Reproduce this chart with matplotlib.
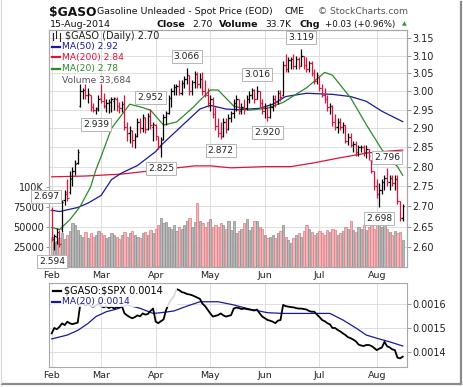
import numpy as np
import pandas as pd
import matplotlib
matplotlib.use('Agg')
import matplotlib.pyplot as plt
from matplotlib.lines import Line2D
from matplotlib.patches import Rectangle
from matplotlib.ticker import FixedLocator, NullLocator, FixedFormatter
import matplotlib.transforms as mtrans

plt.rcParams['font.family'] = ['DejaVu Sans']
plt.rcParams['text.parse_math'] = False

# ---------------- data ----------------
opens = [
    2.690, 2.620, 2.625, 2.636, 2.645, 2.715, 2.735, 2.735, 2.770, 2.790,
    2.810, 2.960, 3.000, 3.005, 2.990, 2.990, 2.958, 2.950, 2.955, 2.982,
    2.975, 2.960, 2.968, 2.970, 2.975, 2.980, 2.960, 2.955, 2.965, 2.905,
    2.887, 2.893, 2.870, 2.880, 2.918, 2.900, 2.928, 2.898, 2.932, 2.905,
    2.910, 2.880, 2.852, 2.872, 2.930, 2.942, 2.982, 3.000, 3.012, 3.015,
    2.995, 3.022, 3.035, 3.045, 3.000, 3.025, 3.048, 3.020, 3.035, 3.000,
    2.990, 2.968, 2.980, 2.938, 2.907, 2.888, 2.880, 2.918, 2.898, 2.928,
    2.940, 2.969, 2.979, 2.948, 2.958, 2.955, 2.979, 2.990, 3.005, 2.980,
    3.000, 2.968, 2.948, 2.955, 2.930, 2.958, 2.979, 2.970, 2.995, 2.990,
    3.074, 3.063, 3.088, 3.090, 3.070, 3.092, 3.072, 3.098, 3.074, 3.063,
    3.078, 3.050, 3.030, 3.040, 3.010, 2.990, 2.979, 2.958, 2.960, 2.918,
    2.905, 2.918, 2.905, 2.910, 2.867, 2.877, 2.857, 2.860, 2.837, 2.850,
    2.852, 2.837, 2.845, 2.818, 2.788, 2.750, 2.730, 2.740, 2.760, 2.770,
    2.760, 2.770, 2.758, 2.768, 2.712, 2.670]
highs = [
    2.697, 2.632, 2.646, 2.641, 2.716, 2.740, 2.768, 2.788, 2.798, 2.818,
    2.847, 3.021, 3.010, 3.021, 3.010, 2.990, 2.969, 2.958, 2.990, 3.021,
    2.995, 2.979, 2.979, 2.985, 2.985, 2.984, 2.972, 2.975, 2.989, 2.918,
    2.907, 2.897, 2.887, 2.928, 2.928, 2.938, 2.930, 2.940, 2.952, 2.918,
    2.912, 2.880, 2.877, 2.938, 2.948, 2.990, 3.010, 3.021, 3.021, 3.031,
    3.031, 3.042, 3.066, 3.045, 3.031, 3.058, 3.053, 3.050, 3.053, 3.031,
    3.010, 2.990, 2.985, 2.958, 2.928, 2.918, 2.928, 2.928, 2.938, 2.948,
    2.979, 2.990, 2.980, 2.969, 2.979, 2.990, 3.000, 3.010, 3.008, 3.016,
    3.000, 2.979, 2.969, 2.960, 2.969, 2.990, 2.990, 3.005, 3.005, 3.085,
    3.106, 3.096, 3.096, 3.106, 3.100, 3.096, 3.119, 3.100, 3.096, 3.085,
    3.085, 3.063, 3.053, 3.042, 3.021, 3.010, 2.990, 2.969, 2.963, 2.938,
    2.928, 2.928, 2.918, 2.910, 2.887, 2.887, 2.867, 2.867, 2.857, 2.857,
    2.857, 2.857, 2.847, 2.818, 2.788, 2.769, 2.759, 2.769, 2.778, 2.796,
    2.778, 2.778, 2.778, 2.778, 2.712, 2.705]
lows = [
    2.615, 2.594, 2.608, 2.600, 2.637, 2.702, 2.712, 2.730, 2.750, 2.778,
    2.808, 2.958, 2.979, 2.979, 2.969, 2.948, 2.945, 2.939, 2.948, 2.969,
    2.955, 2.945, 2.942, 2.945, 2.950, 2.948, 2.940, 2.945, 2.897, 2.867,
    2.862, 2.852, 2.848, 2.877, 2.887, 2.890, 2.888, 2.895, 2.898, 2.867,
    2.870, 2.847, 2.825, 2.870, 2.908, 2.938, 2.958, 2.990, 2.990, 2.990,
    2.990, 3.010, 3.020, 2.990, 2.990, 3.010, 3.010, 3.010, 2.990, 2.985,
    2.958, 2.948, 2.928, 2.897, 2.877, 2.872, 2.877, 2.887, 2.897, 2.918,
    2.928, 2.948, 2.938, 2.938, 2.938, 2.950, 2.969, 2.979, 2.969, 2.979,
    2.958, 2.938, 2.928, 2.920, 2.928, 2.948, 2.958, 2.965, 2.975, 2.988,
    3.053, 3.053, 3.063, 3.063, 3.063, 3.063, 3.070, 3.063, 3.053, 3.053,
    3.042, 3.021, 3.021, 3.000, 2.985, 2.969, 2.948, 2.938, 2.907, 2.897,
    2.887, 2.897, 2.887, 2.862, 2.857, 2.852, 2.837, 2.827, 2.827, 2.837,
    2.827, 2.822, 2.817, 2.783, 2.740, 2.720, 2.698, 2.730, 2.740, 2.750,
    2.740, 2.750, 2.740, 2.706, 2.665, 2.665]
closes = [
    2.625, 2.627, 2.638, 2.609, 2.710, 2.731, 2.720, 2.768, 2.788, 2.808,
    2.838, 3.000, 3.004, 2.989, 2.992, 2.958, 2.950, 2.953, 2.979, 2.975,
    2.960, 2.969, 2.972, 2.978, 2.982, 2.960, 2.955, 2.965, 2.905, 2.887,
    2.895, 2.870, 2.880, 2.918, 2.900, 2.930, 2.898, 2.932, 2.908, 2.912,
    2.880, 2.852, 2.870, 2.930, 2.942, 2.982, 3.000, 3.012, 3.015, 2.995,
    3.022, 3.035, 3.045, 3.000, 3.025, 3.048, 3.020, 3.035, 3.000, 2.990,
    2.968, 2.980, 2.938, 2.907, 2.888, 2.880, 2.918, 2.898, 2.928, 2.940,
    2.969, 2.979, 2.948, 2.958, 2.950, 2.979, 2.990, 3.005, 2.980, 3.000,
    2.968, 2.948, 2.955, 2.930, 2.958, 2.979, 2.970, 2.995, 2.985, 3.074,
    3.063, 3.088, 3.090, 3.070, 3.092, 3.072, 3.098, 3.074, 3.063, 3.078,
    3.050, 3.030, 3.045, 3.010, 2.990, 2.979, 2.958, 2.960, 2.918, 2.905,
    2.918, 2.905, 2.910, 2.867, 2.877, 2.857, 2.860, 2.837, 2.850, 2.852,
    2.837, 2.845, 2.827, 2.788, 2.750, 2.730, 2.740, 2.760, 2.770, 2.760,
    2.770, 2.758, 2.768, 2.712, 2.670, 2.700]
volume_k = [
    38, 31, 33, 36, 42, 35, 40, 45, 55, 52,
    46, 40, 38, 44, 36, 42, 38, 40, 45, 42,
    40, 36, 38, 42, 40, 38, 35, 40, 44, 38,
    42, 45, 40, 38, 36, 42, 44, 40, 46, 42,
    48, 52, 61, 55, 56, 50, 48, 52, 45, 50,
    48, 52, 58, 61, 50, 56, 80, 58, 55, 50,
    56, 60, 50, 52, 50, 55, 52, 48, 58, 46,
    58, 42, 45, 48, 55, 60, 46, 50, 58, 58,
    50, 48, 40, 36, 38, 40, 36, 42, 45, 52,
    38, 34, 30, 36, 40, 42, 38, 45, 52, 48,
    44, 40, 42, 45, 42, 40, 46, 44, 48, 46,
    40, 42, 45, 50, 48, 58, 46, 44, 50, 48,
    52, 46, 50, 54, 48, 52, 56, 50, 54, 48,
    44, 40, 45, 42, 44, 33.684]
ratio = [
    0.001478, 0.001500, 0.001495, 0.001505, 0.001519, 0.001512, 0.001526, 0.001519, 0.001516, 0.001519,
    0.001522, 0.001598, 0.001600, 0.001592, 0.001598, 0.001590, 0.001588, 0.001592, 0.001600, 0.001590,
    0.001585, 0.001590, 0.001582, 0.001588, 0.001580, 0.001586, 0.001584, 0.001590, 0.001560, 0.001552,
    0.001545, 0.001540, 0.001545, 0.001552, 0.001548, 0.001560, 0.001555, 0.001558, 0.001570, 0.001580,
    0.001526, 0.001520, 0.001528, 0.001535, 0.001574, 0.001600, 0.001618, 0.001630, 0.001660, 0.001656,
    0.001648, 0.001645, 0.001640, 0.001638, 0.001635, 0.001630, 0.001625, 0.001620, 0.001600, 0.001590,
    0.001575, 0.001560, 0.001547, 0.001550, 0.001553, 0.001560, 0.001552, 0.001547, 0.001550, 0.001553,
    0.001580, 0.001584, 0.001582, 0.001578, 0.001580, 0.001578, 0.001576, 0.001574, 0.001572, 0.001576,
    0.001560, 0.001547, 0.001540, 0.001533, 0.001530, 0.001526, 0.001520, 0.001530, 0.001533, 0.001595,
    0.001590, 0.001588, 0.001586, 0.001585, 0.001582, 0.001580, 0.001580, 0.001578, 0.001576, 0.001570,
    0.001567, 0.001567, 0.001555, 0.001545, 0.001533, 0.001528, 0.001520, 0.001515, 0.001500, 0.001500,
    0.001492, 0.001486, 0.001478, 0.001471, 0.001462, 0.001458, 0.001452, 0.001445, 0.001432, 0.001428,
    0.001426, 0.001430, 0.001430, 0.001426, 0.001418, 0.001409, 0.001415, 0.001420, 0.001443, 0.001425,
    0.001420, 0.001412, 0.001409, 0.001378, 0.001375, 0.001382]

# moving averages (trading-day index, value)
ma20_idx = [0, 3, 7, 11, 15, 17, 19, 23, 27, 30, 34, 38, 43, 48, 54, 61, 64, 70, 76, 83, 89, 98, 105, 108, 115, 121, 127, 133, 135]
ma20_val = [2.648, 2.643, 2.667, 2.700, 2.749, 2.792, 2.826, 2.900, 2.937, 2.965, 2.958, 2.949, 2.909, 2.917, 2.954,
            3.004, 3.004, 2.960, 2.949, 2.954, 2.970, 3.010, 3.053, 3.045, 2.982, 2.910, 2.844, 2.800, 2.778]
ma50_idx = [0, 3, 10, 14, 19, 23, 27, 33, 40, 42, 49, 57, 61, 67, 72, 80, 85, 90, 98, 108, 115, 121, 127, 133, 135]
ma50_val = [2.690, 2.687, 2.697, 2.708, 2.727, 2.767, 2.784, 2.803, 2.839, 2.855, 2.900, 2.952, 2.962, 2.952, 2.950,
            2.954, 2.965, 2.986, 2.995, 2.992, 2.986, 2.973, 2.946, 2.925, 2.918]
ma200_idx = [0, 13, 27, 55, 61, 69, 82, 92, 101, 111, 122, 135]
ma200_val = [2.774, 2.776, 2.781, 2.802, 2.802, 2.797, 2.800, 2.800, 2.810, 2.823, 2.836, 2.843]
rma20_idx = [0, 6, 10, 14, 17, 21, 25, 29, 34, 39, 42, 47, 52, 57, 64, 70, 76, 83, 89, 96, 102, 107, 112, 117, 121, 125, 130, 135]
rma20_val = [0.001455, 0.001471, 0.001490, 0.001519, 0.001547, 0.001567, 0.001578, 0.001595, 0.001581, 0.001560,
             0.001563, 0.001570, 0.001590, 0.001608, 0.001608, 0.001595, 0.001578, 0.001563, 0.001560, 0.001560,
             0.001560, 0.001560, 0.001533, 0.001500, 0.001471, 0.001458, 0.001443, 0.001426]

# labelled pivots: (index, 'H' or 'L')
pivots = [(0, 'H'), (1, 'L'), (17, 'L'), (38, 'H'), (42, 'L'), (52, 'H'), (65, 'L'),
          (79, 'H'), (83, 'L'), (96, 'H'), (126, 'L'), (129, 'H')]

holidays = pd.to_datetime(['2014-02-17', '2014-04-18', '2014-05-26', '2014-07-04'])
dates = pd.bdate_range('2014-02-03', '2014-08-15')
dates = dates[~dates.isin(holidays)]
n = len(dates)
idx = np.arange(n)
month_pos = [i for i in range(n) if i == 0 or dates[i].month != dates[i - 1].month]
month_lab = [dates[i].strftime('%b') for i in month_pos]

# ---------------- figure ----------------
W, H = 464, 387
fig = plt.figure(figsize=(W / 100, H / 100), dpi=100)
fig.patch.set_facecolor('white')


def fx(x):
    return x / W


def fy(y):
    return 1 - y / H


X0, X1 = 49, 407


def i_at(x):
    return (x - 51.7) / 2.6


XL = (i_at(X0), i_at(X1))
GRID = '#dedede'
FRAME = '#a8a8a8'
RED = '#dc143c'
TXT = '#222222'

# main panel: volume (base) + price (twin)
ax_v = fig.add_axes([fx(X0), fy(267), (X1 - X0) / W, (267 - 30) / H])
ax_p = ax_v.twinx()
ax_v.set_zorder(1)
ax_p.set_zorder(2)
ax_p.patch.set_visible(False)

ax_p.set_yscale('log')
ax_p.set_ylim(2.5537, 3.174)
ax_p.set_xlim(*XL)
ax_v.set_xlim(*XL)
ax_v.set_ylim(0, 296)

price_ticks = [2.60, 2.65, 2.70, 2.75, 2.80, 2.85, 2.90, 2.95, 3.00, 3.05, 3.10, 3.15]
ax_p.yaxis.set_major_locator(FixedLocator(price_ticks))
ax_p.yaxis.set_major_formatter(FixedFormatter(['%.2f' % t for t in price_ticks]))
ax_p.yaxis.set_minor_locator(NullLocator())
ax_p.tick_params(axis='y', which='major', length=3, width=0.6, color='#888888', pad=1,
                 labelsize=7, labelcolor=TXT)

# gridlines drawn beneath volume bars
blend = mtrans.blended_transform_factory(ax_v.transAxes, ax_p.transData)
for t in price_ticks:
    ax_v.plot([0, 1], [t, t], transform=blend, color=GRID, lw=0.7, zorder=0.5)
for m in month_pos:
    ax_v.axvline(m, color=GRID, lw=0.7, zorder=0.5)

up = [closes[0] >= opens[0]] + [closes[i] >= closes[i - 1] for i in range(1, n)]
vfill = ['#b9b9b9' if u else '#f4b5b8' for u in up]
vedge = ['#8c8c8c' if u else '#e07a82' for u in up]
ax_v.bar(idx, volume_k, width=0.78, color=vfill, edgecolor=vedge, linewidth=0.5, zorder=2)
ax_v.yaxis.set_major_locator(FixedLocator([25, 50, 75, 100]))
ax_v.yaxis.set_major_formatter(FixedFormatter(['25000', '50000', '75000', '100K']))
ax_v.tick_params(axis='y', length=2, width=0.6, color='#888888', pad=1.5, labelsize=7, labelcolor=TXT)

ax_v.xaxis.set_major_locator(FixedLocator(month_pos))
ax_v.xaxis.set_major_formatter(FixedFormatter(month_lab))
ax_v.tick_params(axis='x', length=0, pad=3, labelsize=6.8, labelcolor=TXT)
ax_p.tick_params(axis='x', length=0, labelbottom=False)

# OHLC bars
cols = ['#000000' if u else RED for u in up]
ax_p.vlines(idx, lows, highs, colors=cols, lw=0.9, zorder=4)
ax_p.hlines(opens, idx - 0.5, idx, colors=cols, lw=0.9, zorder=4)
ax_p.hlines(closes, idx, idx + 0.5, colors=cols, lw=0.9, zorder=4)

# moving averages
ax_p.plot(ma200_idx, ma200_val, color=RED, lw=0.9, zorder=3)
ax_p.plot(ma50_idx, ma50_val, color='#1a1a96', lw=0.9, zorder=3)
ax_p.plot(ma20_idx, ma20_val, color='#2a8a2a', lw=0.9, zorder=3)

# pivot callouts
for (i, kind) in pivots:
    val = highs[i] if kind == 'H' else lows[i]
    dy = 8 if kind == 'H' else -8
    dx = -4 if i == 0 else (-1.5 if i == 1 else 0)
    ax_p.annotate('%.3f' % val, xy=(i, val), xytext=(dx, dy), textcoords='offset points',
                  ha='center', va='center', fontsize=6.6, color=TXT,
                  bbox=dict(boxstyle='square,pad=0.22', fc='white', ec='#b5b5b5', lw=0.7),
                  annotation_clip=False, zorder=6)

for a in (ax_v, ax_p):
    for s in a.spines.values():
        s.set_color(FRAME)
        s.set_linewidth(0.8)

# lower panel: ratio
ax_r = fig.add_axes([fx(X0), fy(367), (X1 - X0) / W, (367 - 283) / H])
ax_r.set_xlim(*XL)
ax_r.set_ylim(0.0013395, 0.0016852)
for m in month_pos:
    ax_r.axvline(m, color=GRID, lw=0.7, zorder=0)
r_ticks = [0.0014, 0.0015, 0.0016]
for t in r_ticks:
    ax_r.axhline(t, color=GRID, lw=0.7, zorder=0)
ax_r.plot(rma20_idx, rma20_val, color='#1a1a96', lw=0.9, zorder=2)
ax_r.plot(idx, ratio, color='black', lw=1.3, zorder=3)
ax_r.yaxis.tick_right()
ax_r.yaxis.set_major_locator(FixedLocator(r_ticks))
ax_r.yaxis.set_major_formatter(FixedFormatter(['%.4f' % t for t in r_ticks]))
ax_r.tick_params(axis='y', length=3, width=0.6, color='#888888', pad=1, labelsize=7, labelcolor=TXT)
ax_r.xaxis.set_major_locator(FixedLocator(month_pos))
ax_r.xaxis.set_major_formatter(FixedFormatter(month_lab))
ax_r.tick_params(axis='x', length=0, pad=3, labelsize=6.8, labelcolor=TXT)
for s in ax_r.spines.values():
    s.set_color(FRAME)
    s.set_linewidth(0.8)

# ---------------- header text ----------------
fig.text(fx(49), fy(16), '$GASO', fontsize=8.8, fontweight='bold', color='#111111', va='baseline')
fig.text(fx(97), fy(14.5), 'Gasoline Unleaded - Spot Price (EOD)', fontsize=6.75, color='#111111', va='baseline')
fig.text(fx(285), fy(14.5), 'CME', fontsize=6.6, color='#111111', va='baseline')
fig.text(fx(318), fy(14.5), '\u00a9 StockCharts.com', fontsize=6.6, color='#555555', va='baseline')
fig.text(fx(50), fy(27), '15-Aug-2014', fontsize=6.8, color='#111111', va='baseline')
fig.text(fx(157), fy(27), 'Close', fontsize=6.8, fontweight='bold', color='#111111', va='baseline')
fig.text(fx(192), fy(27), '2.70', fontsize=6.6, color='#111111', va='baseline')
fig.text(fx(219), fy(27), 'Volume', fontsize=6.8, fontweight='bold', color='#111111', va='baseline')
fig.text(fx(265), fy(27), '33.7K', fontsize=6.6, color='#111111', va='baseline')
fig.text(fx(300), fy(27), 'Chg', fontsize=6.8, fontweight='bold', color='#111111', va='baseline')
fig.text(fx(325), fy(27), '+0.03 (+0.96%)', fontsize=6.2, color='#111111', va='baseline')
fig.text(fx(404), fy(24), '\u25b2', fontsize=4.5, color='#2e9a2e', ha='center', va='center')

# ---------------- legends ----------------
LFS = 6.6
WB = dict(boxstyle='square,pad=0.05', fc='white', ec='none', alpha=0.85)
# OHLC glyph
for (x, y0, y1) in [(53, 33, 40), (56.5, 31, 38), (60, 33, 41)]:
    fig.add_artist(Line2D([fx(x), fx(x)], [fy(y0), fy(y1)], color='#222222', lw=0.8))
fig.text(fx(65), fy(36), '$GASO (Daily) 2.70', fontsize=LFS + 0.4, color=TXT, va='center')
leg = [(46.7, 'MA(50) 2.92', '#1a1a96'), (57.3, 'MA(200) 2.84', RED), (68.5, 'MA(20) 2.78', '#2a8a2a')]
for (y, s, c) in leg:
    fig.add_artist(Line2D([fx(52), fx(60)], [fy(y), fy(y)], color=c, lw=1.6))
    fig.text(fx(62), fy(y), s, fontsize=LFS, color=c, va='center')
for k, hgt in enumerate([4, 6, 8, 5]):
    fig.add_artist(Rectangle((fx(52 + k * 2.2), fy(84)), 1.6 / W, hgt / H, color='#666666', lw=0))
fig.text(fx(62.5), fy(80), 'Volume 33,684', fontsize=LFS, color='#555555', va='center')

# lower-panel legend, drawn over the ratio line with a light backing like the source
fig.add_artist(Rectangle((fx(51), fy(307)), (177 - 51) / W, (307 - 285) / H,
                         facecolor='white', edgecolor='none', alpha=0.85, zorder=5))
l1 = Line2D([fx(53), fx(61)], [fy(290.7), fy(290.7)], color='black', lw=1.6, zorder=6)
l2 = Line2D([fx(52), fx(60)], [fy(301.7), fy(301.7)], color='#1a1a96', lw=1.6, zorder=6)
fig.add_artist(l1)
fig.add_artist(l2)
fig.text(fx(64), fy(290.7), '$GASO:$SPX 0.0014', fontsize=LFS + 0.4, color='black', va='center', zorder=7)
fig.text(fx(62), fy(301.7), 'MA(20) 0.0014', fontsize=LFS, color='#1a1a96', va='center', zorder=7)

# frame shadow
fig.add_artist(Line2D([fx(461.5), fx(461.5)], [fy(2), fy(384)], color='#8a8a8a', lw=1.6))
fig.add_artist(Line2D([fx(2), fx(461.5)], [fy(384), fy(384)], color='#8a8a8a', lw=1.6))
fig.add_artist(Line2D([fx(0.5), fx(0.5)], [fy(0), fy(383)], color='#d8d8d8', lw=0.8))

fig.savefig('out.png', dpi=100, facecolor='white')
